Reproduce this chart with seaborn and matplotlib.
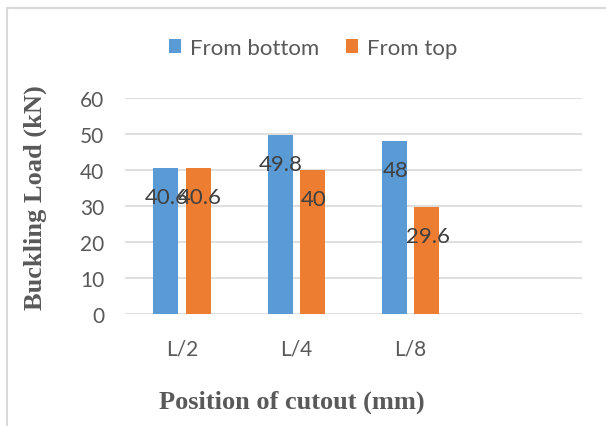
import numpy as np
import pandas as pd
import matplotlib
matplotlib.use('Agg')
import matplotlib.pyplot as plt
import seaborn as sns
from matplotlib.lines import Line2D
from matplotlib.patches import Patch

positions = ['L/2', 'L/4', 'L/8']
series = ['From bottom', 'From top']
from_bottom = [40.6, 49.8, 48]
from_top = [40.6, 40, 29.6]
label_bottom = ['40.6', '49.8', '48']
label_top = ['40.6', '40', '29.6']
colors = ['#5B9BD5', '#ED7D31']

df = pd.DataFrame({
    'Position': positions * 2,
    'Series': [series[0]] * 3 + [series[1]] * 3,
    'Load': from_bottom + from_top,
})

sns.set_style('white')
plt.rcParams['font.family'] = ['Lato', 'DejaVu Sans']

fig = plt.figure(figsize=(6.06, 4.27), dpi=100)
ax = fig.add_axes([125/606, 1 - 315/427, 457/606, 216/427])

sns.barplot(data=df, x='Position', y='Load', hue='Series', order=positions,
            hue_order=series, palette=colors, width=0.57, gap=0.23,
            linewidth=0, saturation=1, legend=False, ax=ax)

ax.set_xlim(-0.5, 3.5)
ax.set_ylim(0, 60)
ax.set_yticks(range(0, 61, 10))
ax.grid(axis='y', color='#D9D9D9', linewidth=1.2)
ax.set_axisbelow(True)
for s in ax.spines.values():
    s.set_visible(False)
ax.tick_params(axis='both', length=0, labelsize=15, colors='#595959')
ax.tick_params(axis='y', pad=15)
ax.tick_params(axis='x', pad=18)
ax.set_xlabel('')
ax.set_ylabel('')

# data labels
for cont, labs in zip(ax.containers, [label_bottom, label_top]):
    for bar, lab in zip(cont, labs):
        x = bar.get_x() + bar.get_width() / 2
        ax.annotate(lab, xy=(x, bar.get_height()), xytext=(1, -29),
                    textcoords='offset pixels', ha='center', va='center',
                    fontsize=16, color='#404040')

fig.text(292/606, 1 - 402/427, 'Position of cutout (mm)', ha='center', va='center',
         family='Liberation Serif', fontweight='bold', fontsize=19, color='#595959')
fig.text(35/606, 1 - 198/427, 'Buckling Load (kN)', ha='center', va='center',
         rotation=90, family='Liberation Serif', fontweight='bold', fontsize=19,
         color='#595959')

handles = [Patch(facecolor=c, edgecolor='none') for c in colors]
fig.legend(handles, series, loc='center', bbox_to_anchor=(313/606, 1 - 49/427),
           ncol=2, frameon=False, fontsize=16, labelcolor='#595959',
           handlelength=0.55, handleheight=0.55, handletextpad=0.4,
           columnspacing=1.2)

# chart area border (left and top edges visible)
fig.add_artist(Line2D([7/606, 7/606], [0, 1 - 9/427], transform=fig.transFigure,
                      color='#D9D9D9', linewidth=1.5))
fig.add_artist(Line2D([7/606, 1], [1 - 9/427, 1 - 9/427], transform=fig.transFigure,
                      color='#D9D9D9', linewidth=1.5))

fig.savefig('out.png', dpi=100, facecolor='white')
